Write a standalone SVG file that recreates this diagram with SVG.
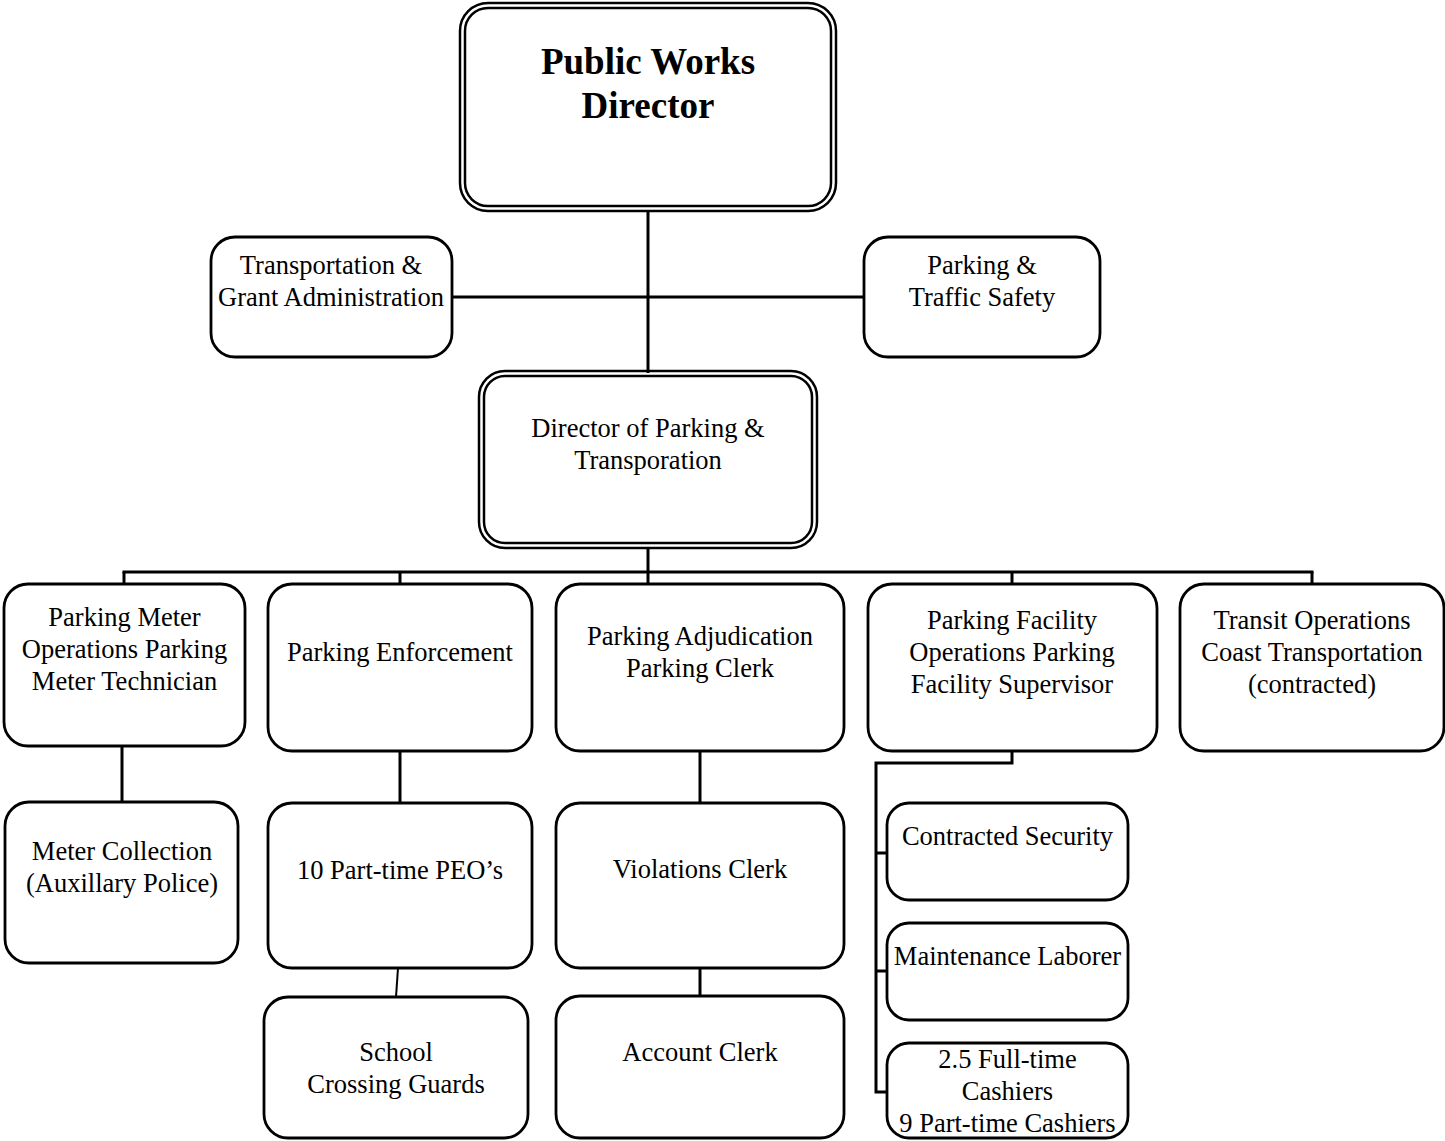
<svg xmlns="http://www.w3.org/2000/svg" width="1445" height="1141" viewBox="0 0 1445 1141">
<style>
.box{fill:#fff;stroke:#000;stroke-width:2.8}
.dbl{fill:none;stroke:#000;stroke-width:2.5}
.ln{fill:none;stroke:#000;stroke-width:3}
text{font-family:"Liberation Serif","Times New Roman",serif;font-size:26.5px;fill:#000;text-anchor:middle}
.big{font-size:37px;font-weight:bold}
</style>
<rect width="1445" height="1141" fill="#fff"/>
<g id="connectors">
<line class="ln" x1="648" y1="211" x2="648" y2="373"/>
<line class="ln" x1="452" y1="297" x2="864" y2="297"/>
<line class="ln" x1="648" y1="548" x2="648" y2="572"/>
<line class="ln" x1="122.5" y1="572" x2="1313.5" y2="572"/>
<line class="ln" x1="124" y1="572" x2="124" y2="584"/>
<line class="ln" x1="400" y1="572" x2="400" y2="584"/>
<line class="ln" x1="648" y1="572" x2="648" y2="584"/>
<line class="ln" x1="1012" y1="572" x2="1012" y2="584"/>
<line class="ln" x1="1312" y1="572" x2="1312" y2="584"/>
<line class="ln" x1="122" y1="746" x2="122" y2="802"/>
<line class="ln" x1="400" y1="751" x2="400" y2="803"/>
<line class="ln" x1="398" y1="968" x2="396" y2="997" style="stroke-width:2"/>
<line class="ln" x1="700" y1="751" x2="700" y2="803"/>
<line class="ln" x1="700" y1="968" x2="700" y2="996"/>
<polyline class="ln" points="1012,751 1012,763 876,763 876,1092 887,1092"/>
<line class="ln" x1="876" y1="853" x2="887" y2="853"/>
<line class="ln" x1="876" y1="971" x2="887" y2="971"/>
</g>
<g id="public-works-director">
<rect class="dbl" x="460" y="3" width="376" height="208" rx="28"/>
<rect class="dbl" x="465" y="8" width="366" height="198" rx="23"/>
<text class="big" x="648" y="74">Public Works</text>
<text class="big" x="648" y="118">Director</text>
</g>
<g id="transportation-grant">
<rect class="box" x="211" y="237" width="241" height="120" rx="24"/>
<text x="331" y="274">Transportation &amp;</text>
<text x="331" y="306">Grant Administration</text>
</g>
<g id="parking-traffic-safety">
<rect class="box" x="864" y="237" width="236" height="120" rx="24"/>
<text x="982" y="274">Parking &amp;</text>
<text x="982" y="306">Traffic Safety</text>
</g>
<g id="director-parking">
<rect class="dbl" x="479" y="371" width="338" height="177" rx="26"/>
<rect class="dbl" x="484" y="376" width="328" height="167" rx="21"/>
<text x="648" y="437">Director of Parking &amp;</text>
<text x="648" y="469">Transporation</text>
</g>
<g id="parking-meter-ops">
<rect class="box" x="4" y="584" width="241" height="162" rx="24"/>
<text x="124.5" y="626">Parking Meter</text>
<text x="124.5" y="658">Operations Parking</text>
<text x="124.5" y="690">Meter Technician</text>
</g>
<g id="parking-enforcement">
<rect class="box" x="268" y="584" width="264" height="167" rx="24"/>
<text x="400" y="661">Parking Enforcement</text>
</g>
<g id="parking-adjudication">
<rect class="box" x="556" y="584" width="288" height="167" rx="24"/>
<text x="700" y="645">Parking Adjudication</text>
<text x="700" y="677">Parking Clerk</text>
</g>
<g id="parking-facility">
<rect class="box" x="868" y="584" width="289" height="167" rx="24"/>
<text x="1012" y="629">Parking Facility</text>
<text x="1012" y="661">Operations Parking</text>
<text x="1012" y="693">Facility Supervisor</text>
</g>
<g id="transit-operations">
<rect class="box" x="1180" y="584" width="264" height="167" rx="24"/>
<text x="1312" y="629">Transit Operations</text>
<text x="1312" y="661">Coast Transportation</text>
<text x="1312" y="693">(contracted)</text>
</g>
<g id="meter-collection">
<rect class="box" x="5" y="802" width="233" height="161" rx="24"/>
<text x="122" y="860">Meter Collection</text>
<text x="122" y="892">(Auxillary Police)</text>
</g>
<g id="part-time-peos">
<rect class="box" x="268" y="803" width="264" height="165" rx="24"/>
<text x="400" y="879">10 Part-time PEO’s</text>
</g>
<g id="school-crossing-guards">
<rect class="box" x="264" y="997" width="264" height="141" rx="24"/>
<text x="396" y="1061">School</text>
<text x="396" y="1093">Crossing Guards</text>
</g>
<g id="violations-clerk">
<rect class="box" x="556" y="803" width="288" height="165" rx="24"/>
<text x="700" y="878">Violations Clerk</text>
</g>
<g id="account-clerk">
<rect class="box" x="556" y="996" width="288" height="142" rx="24"/>
<text x="700" y="1061">Account Clerk</text>
</g>
<g id="contracted-security">
<rect class="box" x="887" y="803" width="241" height="97" rx="22"/>
<text x="1007.5" y="845">Contracted Security</text>
</g>
<g id="maintenance-laborer">
<rect class="box" x="887" y="923" width="241" height="97" rx="22"/>
<text x="1007.5" y="965">Maintenance Laborer</text>
</g>
<g id="cashiers">
<rect class="box" x="887" y="1043" width="241" height="95" rx="22"/>
<text x="1007.5" y="1068">2.5 Full-time</text>
<text x="1007.5" y="1100">Cashiers</text>
<text x="1007.5" y="1132">9 Part-time Cashiers</text>
</g>
</svg>
